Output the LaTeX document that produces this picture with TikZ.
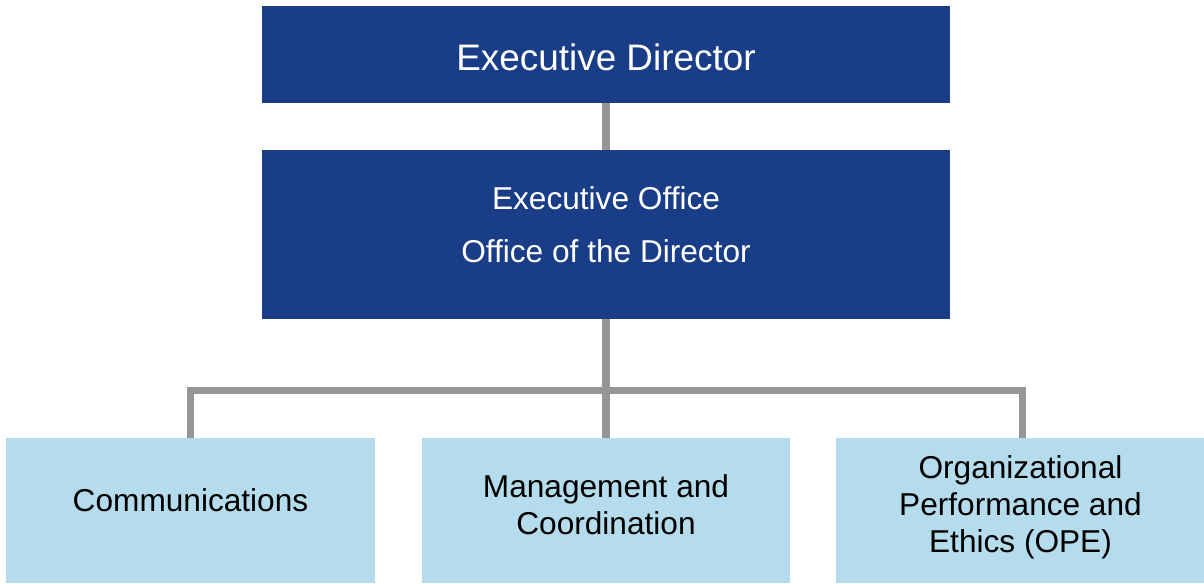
\documentclass[tikz,border=0pt]{standalone}
\usepackage{fontspec}
\setmainfont{Liberation Sans}
\definecolor{darkbox}{HTML}{1A3D87}
\definecolor{lightbox}{HTML}{B4DCEC}
\definecolor{linegray}{HTML}{969696}
\tikzset{
    headbox/.style={fill=darkbox, inner sep=0pt, minimum width=13.76cm},
    unitbox/.style={fill=lightbox, inner sep=0pt, minimum width=7.37cm, minimum height=2.9cm},
    headtext/.style={text=white, font=\fontsize{18}{30}\selectfont, align=center},
    unittext/.style={text=black, font=\fontsize{18}{21}\selectfont, align=center},
    conn/.style={draw=linegray, line width=4pt}
}
\begin{document}
\begin{tikzpicture}[x=0.02cm, y=-0.02cm]
    \useasboundingbox (0,0) rectangle (1204,583);

    % Direction
    \node[headbox, minimum height=1.94cm] (director) at (606,54.5) {};
    \node[headtext, font=\fontsize{21}{25}\selectfont] (directortext) at (606,57) {Executive Director};
    \node[headbox, minimum height=3.38cm] (office) at (606,234.5) {};
    \node[headtext] (officetext) at (606,224.5) {Executive Office\\Office of the Director};

    % Units
    \node[unitbox] (comm) at (190.5,510.5) {};
    \node[unitbox] (mgmt) at (606,510.5) {};
    \node[unitbox] (ope) at (1020.5,510.5) {};
    \node[unittext] (commtext) at (190.5,500.5) {Communications};
    \node[unittext] (mgmttext) at (606,504.5) {Management and\\Coordination};
    \node[unittext] (opetext) at (1020.5,507) {Organizational\\Performance and\\Ethics (OPE)};

    % Connectors
    \coordinate (bus) at (606,390.5);
    \draw[conn] (director.south) -- (office.north);
    \draw[conn] (office.south) -- (mgmt.north);
    \draw[conn] (comm.north -| 190.5,0) |- (bus) -| (ope.north -| 1022.5,0);
\end{tikzpicture}
\end{document}
